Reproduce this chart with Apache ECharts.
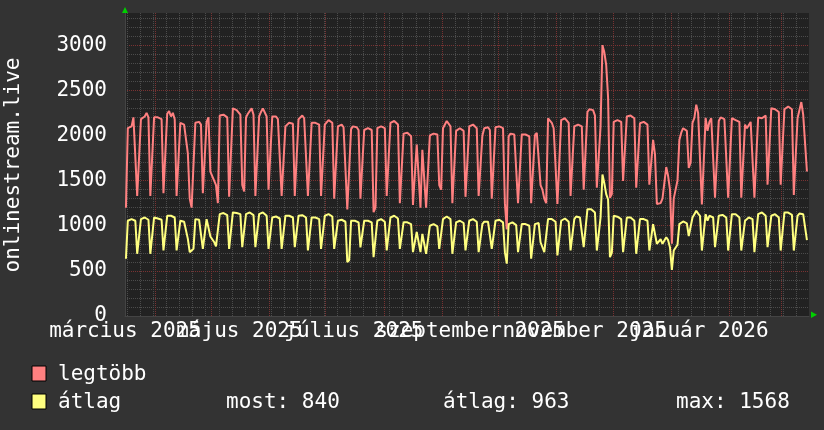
<!DOCTYPE html>
<html>
<head>
<meta charset="utf-8">
<script src="https://cdn.jsdelivr.net/npm/echarts@6/dist/echarts.min.js"></script>
<style>
  html, body { margin: 0; padding: 0; background: #333333; }
  #chart { width: 824px; height: 430px; }
</style>
</head>
<body>
<div id="chart"></div>
<script>
// napi értékek, 0. nap = 2025-03-16 (vasárnap); soronként egy hét: V, H, K, Sze, Cs, P, Szo
const legtobb = [
  1200, 2080, 2100, 2100, 2200, 2180, 1330,
  1330, 2180, 2200, 2210, 2250, 2200, 1330,
  1330, 2200, 2210, 2200, 2200, 2180, 1360,
  1360, 2240, 2270, 2210, 2250, 2180, 1330,
  1330, 2140, 2120, 2120, 2100, 1800, 1300,
  1200, 1180, 2140, 2130, 2150, 2120, 1360,
  1360, 2150, 2200, 1600, 1550, 1500, 1450,
  1250, 2220, 2240, 2230, 2220, 2200, 1320,
  1320, 2300, 2320, 2280, 2290, 2230, 1450,
  1380, 2200, 2240, 2260, 2300, 2230, 1330,
  1330, 2210, 2260, 2300, 2280, 2210, 1400,
  1400, 2210, 2230, 2210, 2180, 2160, 1330,
  1330, 2100, 2120, 2140, 2140, 2130, 1330,
  1330, 2180, 2200, 2220, 2190, 2180, 1330,
  1330, 2140, 2150, 2140, 2130, 2120, 1330,
  1330, 2120, 2140, 2170, 2180, 2140, 1300,
  1300, 2100, 2110, 2120, 2090, 2080, 1180,
  1180, 2070, 2100, 2080, 2090, 2060, 1300,
  1300, 2060, 2070, 2080, 2070, 2060, 1150,
  1200, 2080, 2090, 2100, 2090, 2080, 1330,
  1330, 2140, 2150, 2160, 2140, 2120, 1250,
  1250, 2020, 2040, 2030, 2010, 1990, 1230,
  1230, 1900, 1880, 1200, 1840, 1830, 1200,
  1200, 2000, 2010, 2020, 2030, 2010, 1450,
  1400, 2080, 2100, 2160, 2140, 2100, 1250,
  1250, 2050, 2060, 2080, 2060, 2050, 1320,
  1320, 2100, 2110, 2120, 2100, 2080, 1330,
  1330, 2000, 2080, 2100, 2090, 2060, 1300,
  1300, 2090, 2110, 2100, 2090, 2080, 1250,
   960, 1990, 2020, 2030, 2010, 1990, 1250,
  1250, 2010, 2030, 2010, 2000, 1990, 1250,
  1250, 2000, 2030, 2010, 1450, 1400, 1300,
  1250, 2190, 2210, 2140, 2080, 2060, 1240,
  1240, 2170, 2180, 2190, 2180, 2140, 1330,
  1330, 2100, 2110, 2120, 2110, 2100, 1400,
  1400, 2260, 2290, 2300, 2280, 2220, 1420,
  1420, 2100, 3000, 2920, 2780, 2420, 1310,
  1350, 2150, 2160, 2170, 2160, 2150, 1495,
  1480, 2210, 2220, 2220, 2210, 2190, 1420,
  1420, 2135, 2140, 2150, 2135, 2120, 1455,
  1455, 1950, 1790, 1240, 1230, 1250, 1300,
  1320, 1650, 1550, 1400,  800, 1300, 1300,
  1500, 1950, 2030, 2080, 2090, 2050, 1640,
  1700, 2140, 2195, 2340, 2250, 2230, 1235,
  1240, 2195, 2050, 2150, 2190, 2170, 1310,
  1310, 2160, 2200, 2190, 2180, 2170, 1310,
  1310, 2190, 2180, 2170, 2160, 2150, 1310,
  1310, 2120, 2080, 2100, 2150, 2140, 1310,
  1310, 2200, 2210, 2190, 2200, 2220, 1455,
  1455, 2300, 2280, 2290, 2270, 2260, 1455,
  1455, 2290, 2300, 2320, 2300, 2290, 1340,
  1340, 2190, 2200, 2370, 2230, 2220, 1600
];
const atlag = [
   634, 1055, 1073, 1073, 1066, 1055,  689,
   689, 1073, 1080, 1091, 1073, 1066,  689,
   689, 1091, 1091, 1080, 1073, 1066,  726,
   726, 1110, 1128, 1110, 1102, 1091,  726,
   726, 1055, 1055, 1044, 1044,  854,  707,
   707,  744, 1073, 1073, 1066, 1055,  744,
   744, 1073, 1080,  880,  850,  820,  770,
   760, 1128, 1147, 1140, 1128, 1117,  744,
   744, 1147, 1154, 1140, 1147, 1128,  763,
   763, 1128, 1140, 1147, 1140, 1117,  763,
   763, 1128, 1140, 1147, 1128, 1110,  744,
   744, 1091, 1110, 1102, 1091, 1080,  744,
   744, 1110, 1117, 1110, 1102, 1091,  763,
   763, 1110, 1128, 1117, 1110, 1091,  726,
   726, 1091, 1102, 1091, 1080, 1073,  744,
   744, 1110, 1117, 1128, 1117, 1102,  744,
   744, 1055, 1066, 1066, 1055, 1044,  597,
   620, 1055, 1066, 1055, 1044, 1037,  760,
   740, 1055, 1066, 1055, 1044, 1037,  652,
   670, 1055, 1066, 1073, 1066, 1044,  726,
   726, 1091, 1102, 1110, 1102, 1080,  744,
   744, 1037, 1044, 1037, 1030, 1018,  707,
   707,  930,  950,  707,  910,  890,  689,
   689, 1000, 1007, 1018, 1007,  993,  744,
   744, 1073, 1080, 1102, 1091, 1073,  689,
   689, 1037, 1044, 1055, 1044, 1030,  726,
   726, 1055, 1066, 1073, 1066, 1044,  707,
   707, 1018, 1044, 1055, 1044, 1030,  744,
   744, 1055, 1066, 1066, 1055, 1037,  707,
   580, 1018, 1030, 1037, 1018, 1007,  707,
   707, 1018, 1030, 1018, 1007, 1000,  634,
   634, 1018, 1037, 1030,  817,  800,  707,
   707, 1073, 1091, 1073, 1055, 1044,  670,
   670, 1055, 1073, 1080, 1066, 1044,  726,
   726, 1073, 1102, 1110, 1091, 1080,  762,
   762, 1183, 1170, 1183, 1165, 1146,  725,
   725, 1091, 1568, 1470, 1350, 1290,  652,
   700, 1110, 1110, 1100, 1091, 1073,  707,
   707, 1091, 1100, 1091, 1073, 1055,  689,
   689, 1073, 1080, 1073, 1066, 1055,  725,
   725, 1018,  908,  800,  820,  850,  800,
   800,  872,  840,  760,  510,  725,  720,
   790, 1018, 1037, 1047, 1037, 1026,  886,
   900, 1091, 1128, 1165, 1135, 1110,  725,
   725, 1128, 1055, 1110, 1110, 1091,  762,
   762, 1110, 1128, 1120, 1110, 1091,  725,
   725, 1128, 1135, 1128, 1110, 1091,  725,
   725, 1055, 1073, 1091, 1091, 1073,  707,
   707, 1128, 1135, 1146, 1128, 1110,  762,
   762, 1110, 1120, 1128, 1110, 1091,  725,
   725, 1146, 1155, 1146, 1135, 1120,  725,
   725, 1110, 1135, 1146, 1128, 1120,  840
];
// hónapok első napja (nap index)
const monthStarts = [16, 46, 77, 107, 138, 169, 199, 230, 260, 291, 322, 350];
// címkék a hónap közepén
const monthLabelDays = [0, 61, 122, 184, 245, 306];
const monthLabels = ['március 2025', 'május 2025', 'július 2025', 'szeptember 2025', 'november 2025', 'január 2026'];
const yTicks = [0, 500, 1000, 1500, 2000, 2500, 3000];
const stats = { most: 840, atlag: 963, max: 1568 };

const FONT = 'DejaVu Sans Mono';
const chart = echarts.init(document.getElementById('chart'));

// hetek (hétfő) a halvány rácshoz
const mondays = [];
for (let d = 1; d < 365; d += 7) mondays.push(d);

const toPoints = arr => arr.map((v, i) => [i + 0.5, v]);

// a címkék egymásba lógnak, ezért két tengelyre osztva (minden második)
const labelAxis = (days, showLine) => ({
  type: 'value', min: 0, max: 364.6, position: 'bottom', offset: 0,
  axisLine: { show: showLine, lineStyle: { color: '#444444' } },
  axisTick: { show: false },
  splitLine: { show: false },
  axisLabel: {
    customValues: days,
    formatter: v => monthLabels[monthLabelDays.indexOf(v)] || '',
    showMinLabel: true, showMaxLabel: true,
    color: '#ffffff', fontFamily: FONT, fontSize: 21, margin: 5
  }
});

const option = {
  backgroundColor: '#333333',
  animation: false,
  grid: {
    left: 125, right: 15, top: -2.5, bottom: 114,
    show: true, backgroundColor: '#222222', borderWidth: 0
  },
  xAxis: [
    labelAxis(monthLabelDays.filter((d, i) => i % 2 === 0), true),
    labelAxis(monthLabelDays.filter((d, i) => i % 2 === 1), false)
  ],
  yAxis: {
    type: 'value', min: 0, max: 3500, interval: 500,
    axisLine: { show: true, lineStyle: { color: '#444444' } },
    axisTick: { show: false },
    axisLabel: {
      formatter: v => yTicks.includes(v) ? String(v) : '',
      color: '#ffffff', fontFamily: FONT, fontSize: 21, margin: 18
    },
    splitLine: { show: true, lineStyle: { color: '#7a3232', type: [1, 1], width: 1 } },
    minorTick: { show: false, splitNumber: 5 },
    minorSplitLine: { show: true, lineStyle: { color: '#4c4c4c', type: [1, 1], width: 1 } }
  },
  series: [
    {
      type: 'line', data: [], z: 1, silent: true,
      markLine: {
        silent: true, symbol: ['none', 'none'], z: 1, animation: false,
        label: { show: false },
        lineStyle: { type: [1, 1], width: 1 },
        data: mondays.map(d => ({ xAxis: d, lineStyle: { color: '#4c4c4c', type: [1, 1], width: 1 } }))
          .concat(monthStarts.map(d => ({ xAxis: d, lineStyle: { color: '#7a3232', type: [1, 1], width: 1 } })))
      }
    },
    {
      name: 'legtöbb', type: 'line', data: toPoints(legtobb), z: 3,
      showSymbol: false, lineStyle: { color: '#ff8080', width: 2 }, itemStyle: { color: '#ff8080' }
    },
    {
      name: 'átlag', type: 'line', data: toPoints(atlag), z: 4,
      showSymbol: false, lineStyle: { color: '#ffff80', width: 2 }, itemStyle: { color: '#ffff80' }
    }
  ],
  graphic: [
    { type: 'rect', z: 100, shape: { x: 0, y: 0, width: 824, height: 13 }, style: { fill: '#333333' } },
    { type: 'polygon', z: 101, shape: { points: [[122, 13], [128, 13], [125, 7]] }, style: { fill: '#00d000' } },
    { type: 'polygon', z: 101, shape: { points: [[811, 311.5], [811, 318], [817, 314.7]] }, style: { fill: '#00d000' } },
    {
      type: 'text', z: 101, x: 14, y: 165, rotation: Math.PI / 2,
      style: { text: 'onlinestream.live', fill: '#ffffff', font: '21px ' + FONT, align: 'center', verticalAlign: 'middle' }
    },
    { type: 'rect', z: 101, shape: { x: 32, y: 366, width: 14, height: 15 }, style: { fill: '#ff8080', stroke: '#000', lineWidth: 1 } },
    { type: 'rect', z: 101, shape: { x: 32, y: 394, width: 14, height: 15 }, style: { fill: '#ffff80', stroke: '#000', lineWidth: 1 } },
    { type: 'text', z: 101, x: 58, y: 375, style: { text: 'legtöbb', fill: '#ffffff', font: '21px ' + FONT, verticalAlign: 'middle' } },
    { type: 'text', z: 101, x: 58, y: 403, style: { text: 'átlag', fill: '#ffffff', font: '21px ' + FONT, verticalAlign: 'middle' } },
    { type: 'text', z: 101, x: 226, y: 403, style: { text: 'most: ' + stats.most, fill: '#ffffff', font: '21px ' + FONT, verticalAlign: 'middle' } },
    { type: 'text', z: 101, x: 443, y: 403, style: { text: 'átlag: ' + stats.atlag, fill: '#ffffff', font: '21px ' + FONT, verticalAlign: 'middle' } },
    { type: 'text', z: 101, x: 676, y: 403, style: { text: 'max: ' + stats.max, fill: '#ffffff', font: '21px ' + FONT, verticalAlign: 'middle' } }
  ]
};
chart.setOption(option);
</script>
</body>
</html>
